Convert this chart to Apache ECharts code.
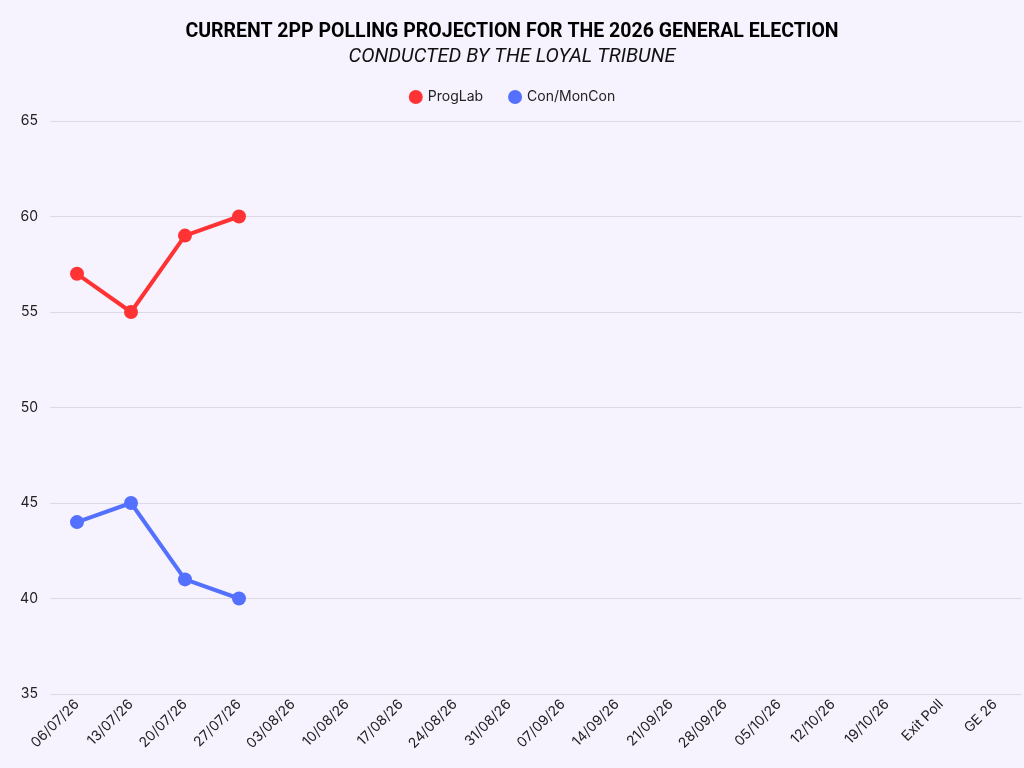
<!DOCTYPE html>
<html>
<head>
<meta charset="utf-8">
<script src="https://cdn.jsdelivr.net/npm/echarts@6/dist/echarts.min.js"></script>
<style>
  html, body { margin: 0; padding: 0; background: #f6f3fe; }
  #main { width: 1024px; height: 768px; }
</style>
</head>
<body>
<div id="main"></div>
<script>
var categories = ['06/07/26', '13/07/26', '20/07/26', '27/07/26', '03/08/26', '10/08/26', '17/08/26', '24/08/26', '31/08/26',
  '07/09/26', '14/09/26', '21/09/26', '28/09/26', '05/10/26', '12/10/26', '19/10/26', 'Exit Poll', 'GE 26'];
var progLab = [57, 55, 59, 60];
var conMonCon = [44, 45, 41, 40];
var nameArr = ['ProgLab', 'Con/MonCon'];
var color = ['#ff3334', '#5470fe'];

var chart = echarts.init(document.getElementById('main'));

var series = [progLab, conMonCon].map(function (d, i) {
  return {
    name: nameArr[i],
    type: 'line',
    symbol: 'circle',
    symbolSize: 14,
    data: d,
    itemStyle: { color: color[i] },
    lineStyle: { width: 4, color: color[i] }
  };
});

var option = {
  backgroundColor: '#f6f3fe',
  color: color,
  textStyle: { fontFamily: 'Inter' },
  title: {
    text: 'CURRENT 2PP POLLING PROJECTION FOR THE 2026 GENERAL ELECTION',
    subtext: 'CONDUCTED BY THE LOYAL TRIBUNE',
    left: 'center',
    top: 17,
    itemGap: 5,
    textStyle: { fontFamily: 'Roboto', fontWeight: 'bold', fontSize: 19.5, color: '#000' },
    subtextStyle: { fontFamily: 'Roboto', fontStyle: 'italic', fontSize: 20, color: '#111' }
  },
  legend: {
    top: 85,
    left: 'center',
    icon: 'circle',
    itemWidth: 14,
    itemHeight: 14,
    itemGap: 25,
    textStyle: { fontSize: 14, color: '#222' },
    data: nameArr
  },
  grid: { left: 50, right: 2, top: 121, bottom: 74 },
  xAxis: {
    type: 'category',
    data: categories,
    axisLine: { show: false },
    axisTick: { show: false },
    axisLabel: { rotate: 45, color: '#222', fontSize: 14, interval: 0, margin: 8 }
  },
  yAxis: {
    type: 'value',
    min: 35,
    max: 65,
    interval: 5,
    axisLine: { show: false },
    axisTick: { show: false },
    axisLabel: { color: '#222', fontSize: 14, margin: 12 },
    splitLine: { lineStyle: { color: '#dcd9e4', width: 1 } }
  },
  series: series
};

chart.setOption(option);
</script>
</body>
</html>
